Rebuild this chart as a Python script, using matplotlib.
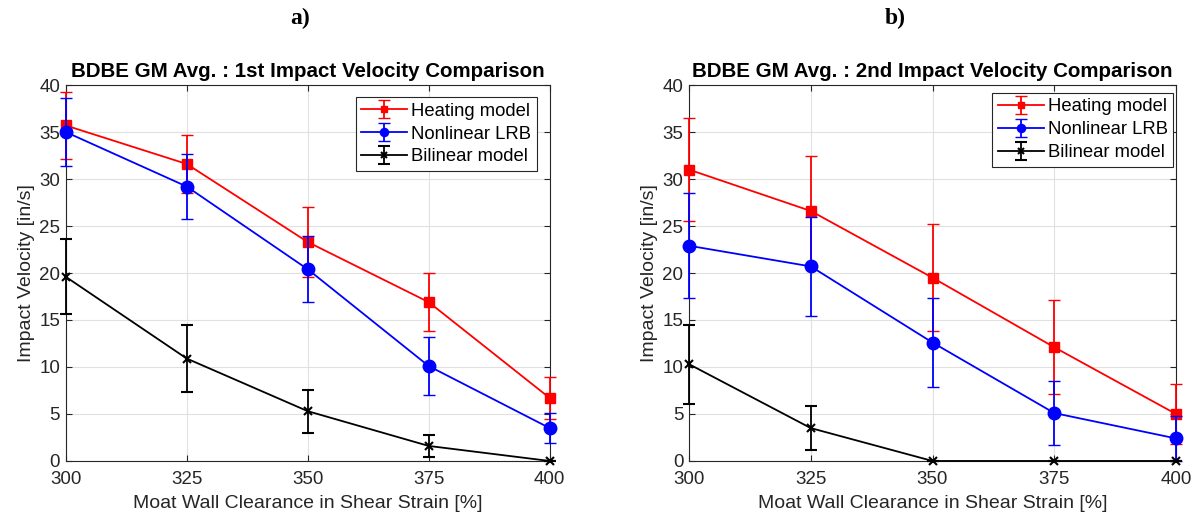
import matplotlib.pyplot as plt

clearance = [300, 325, 350, 375, 400]

# panel a) 1st impact
heat_1 = [35.7, 31.6, 23.3, 16.9, 6.7]
heat_1_err = [3.6, 3.1, 3.7, 3.1, 2.2]
lrb_1 = [35.0, 29.2, 20.4, 10.1, 3.5]
lrb_1_err = [3.6, 3.5, 3.5, 3.1, 1.6]
bil_1 = [19.6, 10.9, 5.3, 1.6, 0.0]
bil_1_err = [4.0, 3.6, 2.3, 1.2, 0.0]

# panel b) 2nd impact
heat_2 = [31.0, 26.6, 19.5, 12.1, 5.0]
heat_2_err = [5.5, 5.9, 5.7, 5.0, 3.2]
lrb_2 = [22.9, 20.7, 12.6, 5.1, 2.4]
lrb_2_err = [5.6, 5.3, 4.7, 3.4, 2.4]
bil_2 = [10.3, 3.5, 0.0, 0.0, 0.0]
bil_2_err = [4.2, 2.3, 0.0, 0.0, 0.0]

plt.rcParams['font.family'] = ['Arial', 'Liberation Sans', 'DejaVu Sans']

fig = plt.figure(figsize=(11.95, 5.2), dpi=100)
ax_a = fig.add_axes([0.055, 0.1135, 0.405, 0.723])
ax_b = fig.add_axes([0.5766, 0.1135, 0.4075, 0.723])

tick_col = '#262626'


def draw(ax, heat, heat_err, lrb, lrb_err, bil, bil_err, title, leg_anchor):
    conts = []
    conts.append(ax.errorbar(clearance, heat, yerr=heat_err, color='#ff0000', marker='s', ms=6.5,
                             lw=1.3, capsize=4, elinewidth=1.3, label='Heating model', zorder=3))
    conts.append(ax.errorbar(clearance, lrb, yerr=lrb_err, color='#0000ff', marker='o', ms=9,
                             lw=1.3, capsize=4, elinewidth=1.3, label='Nonlinear LRB', zorder=4))
    conts.append(ax.errorbar(clearance, bil, yerr=bil_err, color='black', marker='x', ms=6,
                             mew=1.5, lw=1.3, capsize=4, elinewidth=1.3, label='Bilinear model',
                             zorder=5))
    for c in conts:
        for art in c.get_children():
            art.set_clip_on(False)
    ax.set_xlim(300, 400)
    ax.set_ylim(0, 40)
    ax.set_xticks(clearance)
    ax.set_yticks(range(0, 41, 5))
    ax.grid(True, color='#e0e0e0', lw=0.8)
    ax.set_axisbelow(True)
    ax.tick_params(direction='in', length=4, labelsize=13.5, colors=tick_col,
                   top=True, right=True)
    ax.tick_params(axis='x', pad=7)
    ax.tick_params(axis='y', pad=4)
    for s in ax.spines.values():
        s.set_color(tick_col)
        s.set_linewidth(0.8)
    ax.set_xlabel('Moat Wall Clearance in Shear Strain [%]', fontsize=14, color=tick_col, labelpad=5)
    ax.set_ylabel('Impact Velocity [in/s]', fontsize=14, color=tick_col, labelpad=3)
    ax.set_title(title, fontsize=14.8, fontweight='bold', pad=6)
    leg = ax.legend(loc='upper right', bbox_to_anchor=leg_anchor, fontsize=13.3, fancybox=False,
                    framealpha=1, edgecolor=tick_col, handlelength=2.5, borderpad=0.3,
                    labelspacing=0.32, handletextpad=0.2, borderaxespad=0, markerscale=0.65)
    leg.get_frame().set_linewidth(0.8)


draw(ax_a, heat_1, heat_1_err, lrb_1, lrb_1_err, bil_1, bil_1_err,
     'BDBE GM Avg. : 1st Impact Velocity Comparison', (0.973, 0.968))
draw(ax_b, heat_2, heat_2_err, lrb_2, lrb_2_err, bil_2, bil_2_err,
     'BDBE GM Avg. : 2nd Impact Velocity Comparison', (0.994, 0.979))

fig.text(0.251, 0.965, 'a)', fontsize=17, fontweight='bold', family='Liberation Serif',
         ha='center', va='center')
fig.text(0.749, 0.965, 'b)', fontsize=17, fontweight='bold', family='Liberation Serif',
         ha='center', va='center')

fig.savefig('out.png', dpi=100)
